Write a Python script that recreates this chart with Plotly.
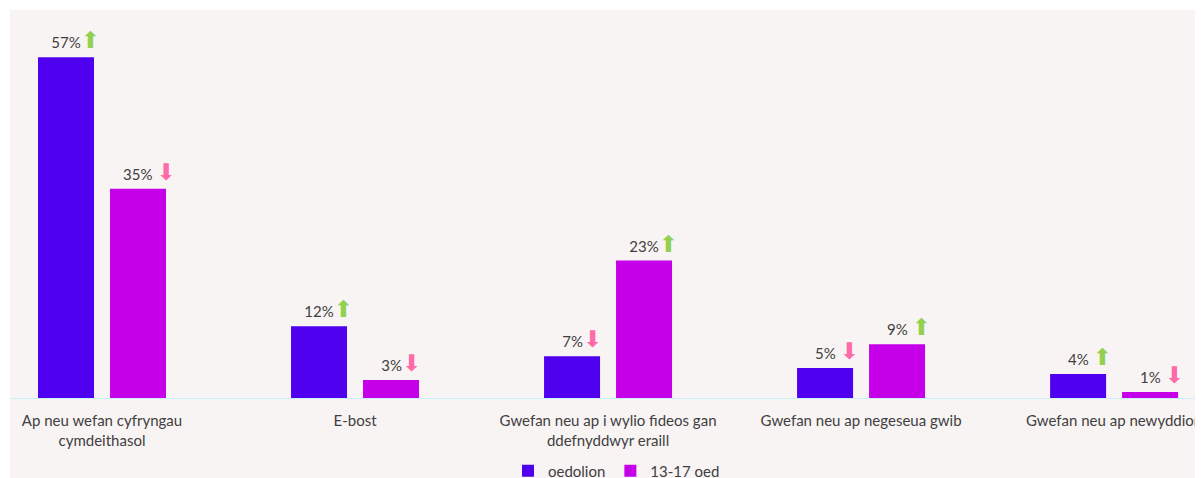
import plotly.graph_objects as go

categories = [
    "Ap neu wefan cyfryngau<br>cymdeithasol",
    "E-bost",
    "Gwefan neu ap i wylio fideos gan<br>ddefnyddwyr eraill",
    "Gwefan neu ap negeseua gwib",
    "Gwefan neu ap newyddion",
]
series_names = ["oedolion", "13-17 oed"]
adults = [57, 12, 7, 5, 4]
teens = [35, 3, 23, 9, 1]
adults_trend = ["up", "up", "down", "down", "up"]
teens_trend = ["down", "down", "up", "up", "down"]
adults_gap = [False, False, False, True, True]
teens_gap = [True, False, False, True, True]

colors = ["#4f00ef", "#c600e8"]
ARROW = {"up": ("⬆", "#92d050"), "down": ("⬇", "#ff6aa8")}
TEXT_COLOR = "#404040"
FONT = "Lato, 'Open Sans', sans-serif"
AFONT = "font-family:'DejaVu Sans';font-size:23px"

BARGAP = 0.431
BARGROUPGAP = 0.222

fig = go.Figure()
xs = list(range(len(categories)))
for name, vals, col in zip(series_names, [adults, teens], colors):
    fig.add_trace(go.Bar(
        x=xs, y=vals, name=name, marker=dict(color=col, line=dict(width=0)),
        hoverinfo="skip",
    ))

slot = (1 - BARGAP) / 2
offsets = [-slot / 2, slot / 2]
annotations = []
for j, (vals, trends, gaps) in enumerate(zip([adults, teens], [adults_trend, teens_trend], [adults_gap, teens_gap])):
    for i, (v, t, g) in enumerate(zip(vals, trends, gaps)):
        glyph, acol = ARROW[t]
        sp = " " if g else ""
        text = (f"<span style=\"color:rgba(0,0,0,0);{AFONT}\">{glyph}</span>{sp}"
                f"{v}%{sp}<span style=\"color:{acol};{AFONT}\">{glyph}</span>")
        annotations.append(dict(
            x=i + offsets[j], y=v, xref="x", yref="y", text=text, showarrow=False,
            yanchor="bottom", xanchor="center", yshift=2,
            font=dict(size=15, color=TEXT_COLOR, family=FONT),
        ))

MT, MB = 2, 88
plot_h = 478 - MT - MB
fig.update_layout(
    width=1203, height=478,
    margin=dict(l=2, r=0, t=MT, b=MB, autoexpand=False),
    paper_bgcolor="white",
    plot_bgcolor="#f8f4f4",
    barmode="group", bargap=BARGAP, bargroupgap=BARGROUPGAP,
    font=dict(family=FONT, size=15, color=TEXT_COLOR),
    showlegend=True,
    legend=dict(orientation="h", x=0.505, xanchor="center", y=-73 / plot_h, yanchor="middle",
                font=dict(size=15, color=TEXT_COLOR), bgcolor="rgba(0,0,0,0)",
                itemwidth=30, traceorder="normal"),
    annotations=annotations,
    shapes=[dict(type="rect", xref="paper", yref="paper", x0=0, x1=1.02,
                 y0=-MB / plot_h, y1=1, fillcolor="#f8f4f4", line=dict(width=0),
                 layer="below")],
    xaxis=dict(
        tickmode="array", tickvals=xs, ticktext=categories,
        range=[-0.3636, 4.383], showgrid=False, zeroline=False,
        showline=True, linecolor="#c9eefc", linewidth=1,
        ticks="", ticklabelstandoff=9,
        tickfont=dict(size=15, color=TEXT_COLOR, family=FONT),
    ),
    yaxis=dict(range=[0, 64.9], visible=False, showgrid=False, zeroline=False),
)

fig.write_html("out.html")
